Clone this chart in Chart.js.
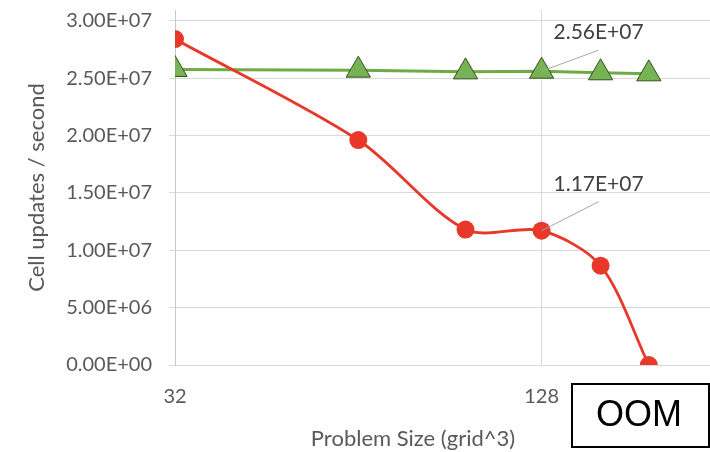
<!DOCTYPE html>
<html>
<head>
<meta charset="utf-8">
<script src="https://cdn.jsdelivr.net/npm/chart.js@4/dist/chart.umd.min.js"></script>
<style>
    html, body { margin: 0; padding: 0; background: #ffffff; }
    #wrap { width: 710px; height: 452px; position: relative; }
</style>
</head>
<body>
<div id="wrap"><canvas id="perfChart"></canvas></div>
<script>
// problem sizes (grid^3)
const gridSizes = [32, 64, 96, 128, 160, 192];
// cell updates per second
const redSeries = [2.84e7, 1.96e7, 1.18e7, 1.17e7, 8.65e6, 0];
const greenSeries = [2.575e7, 2.569e7, 2.554e7, 2.56e7, 2.546e7, 2.537e7];

const xTicks = [32, 128];
const yTicks = [0, 5e6, 1e7, 1.5e7, 2e7, 2.5e7, 3e7];

const labelFont = 'Lato, "Open Sans", sans-serif';
const gridColor = '#d9d9d9';
const textColor = '#595959';

function sci(v) {
    // Excel-like 0.00E+00
    if (v === 0) return '0.00E+00';
    const exp = Math.floor(Math.log10(Math.abs(v)));
    const mant = (v / Math.pow(10, exp)).toFixed(2);
    const sign = exp < 0 ? '-' : '+';
    return mant + 'E' + sign + String(Math.abs(exp)).padStart(2, '0');
}

// callout labels on the 128 points, plus the OOM box
const calloutPlugin = {
    id: 'callouts',
    afterDatasetsDraw(chart) {
        const ctx = chart.ctx;
        const callouts = [
            { ds: 1, idx: 3, dx: 57, dy: -39, lx: 57, ly: -21 },
            { ds: 0, idx: 3, dx: 57, dy: -46, lx: 57, ly: -29 }
        ];
        ctx.save();
        callouts.forEach(c => {
            const pt = chart.getDatasetMeta(c.ds).data[c.idx];
            const value = chart.data.datasets[c.ds].data[c.idx].y;
            ctx.strokeStyle = '#a6a6a6';
            ctx.lineWidth = 1;
            ctx.beginPath();
            ctx.moveTo(pt.x, pt.y);
            ctx.lineTo(pt.x + c.lx, pt.y + c.ly);
            ctx.stroke();
            ctx.fillStyle = '#404040';
            ctx.font = '21px ' + labelFont;
            ctx.textAlign = 'center';
            ctx.textBaseline = 'middle';
            ctx.fillText(sci(value), pt.x + c.dx, pt.y + c.dy);
        });
        ctx.restore();
    },
    afterDraw(chart) {
        const ctx = chart.ctx;
        ctx.save();
        // x axis title (off-centre in the original crop)
        ctx.fillStyle = textColor;
        ctx.font = '22px ' + labelFont;
        ctx.textAlign = 'center';
        ctx.textBaseline = 'middle';
        ctx.fillText('Problem Size (grid^3)', 413, 439);
        // OOM box
        ctx.fillStyle = '#ffffff';
        ctx.fillRect(572, 384, 137, 63);
        ctx.strokeStyle = '#000000';
        ctx.lineWidth = 2;
        ctx.strokeRect(572, 384, 137, 63);
        ctx.fillStyle = '#000000';
        ctx.font = '36px "Liberation Sans", Arial, sans-serif';
        ctx.fillText('OOM', 639, 416);
        ctx.restore();
    }
};

const ctx = document.getElementById('perfChart').getContext('2d');
new Chart(ctx, {
    type: 'line',
    data: {
        labels: gridSizes,
        datasets: [
            {
                label: 'red',
                data: gridSizes.map((x, i) => ({ x: x, y: redSeries[i] })),
                borderColor: '#e8382a',
                backgroundColor: '#e8382a',
                borderWidth: 2.8,
                pointRadius: 9,
                pointStyle: 'circle',
                pointBorderWidth: 0,
                tension: 0.3,
                fill: false
            },
            {
                label: 'green',
                data: gridSizes.map((x, i) => ({ x: x, y: greenSeries[i] })),
                borderColor: '#6fab45',
                backgroundColor: '#77b255',
                borderWidth: 3,
                pointRadius: 14,
                pointStyle: 'triangle',
                pointBorderColor: '#34501f',
                pointBorderWidth: 1,
                tension: 0,
                fill: false
            }
        ]
    },
    options: {
        responsive: true,
        maintainAspectRatio: false,
        animation: false,
        layout: { autoPadding: false, padding: { top: 10, right: 0, bottom: 0, left: 0 } },
        plugins: {
            legend: { display: false },
            tooltip: { enabled: false }
        },
        scales: {
            x: {
                type: 'logarithmic',
                min: 32,
                max: 242,
                afterBuildTicks: scale => {
                    scale.ticks = xTicks.map(v => ({ value: v }));
                },
                afterFit: scale => {
                    scale.height = 87;
                    scale.paddingLeft = 0;
                    scale.paddingRight = 0;
                },
                grid: { color: gridColor, drawTicks: false },
                border: { color: gridColor },
                ticks: {
                    color: textColor,
                    font: { family: labelFont, size: 20 },
                    padding: 20,
                    autoSkip: false,
                    maxRotation: 0,
                    callback: v => String(v)
                }
            },
            y: {
                min: 0,
                max: 3.093e7,
                afterBuildTicks: scale => {
                    scale.ticks = yTicks.map(v => ({ value: v }));
                },
                afterFit: scale => {
                    scale.width = 175;
                    scale.paddingTop = 0;
                    scale.paddingBottom = 0;
                },
                grid: { color: gridColor, tickLength: 6, tickColor: gridColor },
                border: { color: '#c8c8c8' },
                ticks: {
                    color: textColor,
                    font: { family: labelFont, size: 20 },
                    padding: 17,
                    callback: v => sci(v)
                },
                title: {
                    display: true,
                    text: 'Cell updates / second',
                    color: textColor,
                    font: { family: labelFont, size: 22 },
                    padding: { top: 24, bottom: 0 }
                }
            }
        }
    },
    plugins: [calloutPlugin]
});
</script>
</body>
</html>
